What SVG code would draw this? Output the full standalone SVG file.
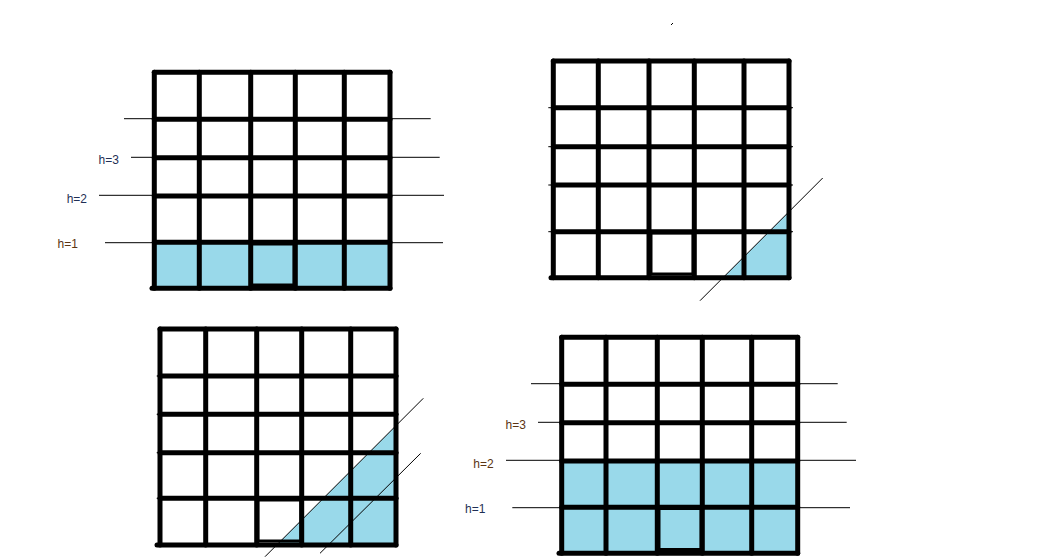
<svg xmlns="http://www.w3.org/2000/svg" width="1041" height="560" viewBox="0 0 1041 560">
<style>
.bg{fill:#ffffff}
.g{stroke:#000;stroke-width:5;stroke-linecap:round;fill:none}
.in{stroke:#000;stroke-width:3;fill:none}
.t{stroke:#000;stroke-width:1;fill:none}
.w{fill:#99d9ea;stroke:none}
.lb{font-family:"Liberation Sans",Arial,sans-serif;font-size:12px}
.nv{fill:#1f2f55}
.br{fill:#5b3412}
</style>
<rect class="bg" x="0" y="0" width="1041" height="560"/>
<line id="speck" class="t" x1="671" y1="25" x2="673" y2="23"/>

<g id="grid-top-left">
  <rect class="w" x="154.3" y="242.3" width="235.7" height="46"/>
  <g class="t">
    <line x1="124" y1="118.7" x2="430.7" y2="118.7"/>
    <line x1="131" y1="157.3" x2="439.7" y2="157.3"/>
    <line x1="99" y1="195.3" x2="444" y2="195.3"/>
    <line x1="105" y1="242.7" x2="443" y2="242.7"/>
  </g>
  <g class="g">
    <line x1="154.3" y1="72.3" x2="154.3" y2="288.3"/>
    <line x1="199.3" y1="72.3" x2="199.3" y2="288.3"/>
    <line x1="250.7" y1="72.3" x2="250.7" y2="288.3"/>
    <line x1="295.3" y1="72.3" x2="295.3" y2="288.3"/>
    <line x1="344.3" y1="72.3" x2="344.3" y2="288.3"/>
    <line x1="390" y1="72.3" x2="390" y2="288.3"/>
    <line x1="154.3" y1="72.3" x2="390" y2="72.3"/>
    <line x1="154.3" y1="119.3" x2="390" y2="119.3"/>
    <line x1="154.3" y1="157.7" x2="390" y2="157.7"/>
    <line x1="154.3" y1="196" x2="390" y2="196"/>
    <line x1="154.3" y1="242.3" x2="390" y2="242.3"/>
    <line x1="152" y1="288.3" x2="390" y2="288.3"/>
  </g>
  <rect class="in" x="251" y="244" width="43" height="41"/>
  <text class="lb nv" x="98.5" y="164">h=3</text>
  <text class="lb nv" x="66.7" y="202.7">h=2</text>
  <text class="lb br" x="57.5" y="247.5">h=1</text>
</g>

<g id="grid-top-right">
  <polygon class="w" points="723,277.7 789,277.7 789,211.7"/>
  <g class="t">
    <line x1="548.3" y1="107.7" x2="793" y2="107.7"/>
    <line x1="548.3" y1="146.7" x2="793" y2="146.7"/>
    <line x1="548.3" y1="185" x2="793" y2="185"/>
    <line x1="548.3" y1="231.7" x2="793" y2="231.7"/>
    <line x1="700" y1="300.7" x2="822.7" y2="178"/>
  </g>
  <g class="g">
    <line x1="553.3" y1="61" x2="553.3" y2="277.7"/>
    <line x1="598.3" y1="61" x2="598.3" y2="277.7"/>
    <line x1="649" y1="61" x2="649" y2="277.7"/>
    <line x1="694.3" y1="61" x2="694.3" y2="277.7"/>
    <line x1="744" y1="61" x2="744" y2="277.7"/>
    <line x1="789" y1="61" x2="789" y2="277.7"/>
    <line x1="553.3" y1="61" x2="789" y2="61"/>
    <line x1="553.3" y1="107.7" x2="789" y2="107.7"/>
    <line x1="553.3" y1="146.7" x2="789" y2="146.7"/>
    <line x1="553.3" y1="185" x2="789" y2="185"/>
    <line x1="553.3" y1="231.7" x2="789" y2="231.7"/>
    <line x1="551" y1="277.7" x2="789" y2="277.7"/>
  </g>
  <rect class="in" x="651" y="233" width="42" height="41"/>
</g>

<g id="grid-bottom-left">
  <polygon class="w" points="276.7,545 396,545 396,425.7"/>
  <g class="t">
    <line x1="156.7" y1="376" x2="398.3" y2="376"/>
    <line x1="156.7" y1="414.3" x2="398.3" y2="414.3"/>
    <line x1="156.7" y1="452.7" x2="398.3" y2="452.7"/>
    <line x1="156.7" y1="498.3" x2="398.3" y2="498.3"/>
    <line x1="265" y1="556.7" x2="423.3" y2="398.3"/>
    <line x1="320" y1="553.3" x2="420.7" y2="453.3"/>
  </g>
  <g class="g">
    <line x1="160" y1="329" x2="160" y2="545"/>
    <line x1="205.7" y1="329" x2="205.7" y2="545"/>
    <line x1="256.7" y1="329" x2="256.7" y2="545"/>
    <line x1="301.7" y1="329" x2="301.7" y2="545"/>
    <line x1="350.7" y1="329" x2="350.7" y2="545"/>
    <line x1="396" y1="329" x2="396" y2="545"/>
    <line x1="160" y1="329" x2="396" y2="329"/>
    <line x1="160" y1="376" x2="396" y2="376"/>
    <line x1="160" y1="414.3" x2="396" y2="414.3"/>
    <line x1="160" y1="452.7" x2="396" y2="452.7"/>
    <line x1="160" y1="498.3" x2="396" y2="498.3"/>
    <line x1="157" y1="545" x2="396" y2="545"/>
  </g>
  <rect class="in" x="258" y="500" width="43" height="41"/>
</g>

<g id="grid-bottom-right">
  <rect class="w" x="561.7" y="461" width="236" height="92.3"/>
  <g class="t">
    <line x1="531" y1="383.7" x2="837.7" y2="383.7"/>
    <line x1="538" y1="422.3" x2="846.7" y2="422.3"/>
    <line x1="506" y1="460.3" x2="856" y2="460.3"/>
    <line x1="512.3" y1="507.7" x2="850" y2="507.7"/>
  </g>
  <g class="g">
    <line x1="561.7" y1="337.3" x2="561.7" y2="553.3"/>
    <line x1="606" y1="337.3" x2="606" y2="553.3"/>
    <line x1="657.3" y1="337.3" x2="657.3" y2="553.3"/>
    <line x1="702.3" y1="337.3" x2="702.3" y2="553.3"/>
    <line x1="751.7" y1="337.3" x2="751.7" y2="553.3"/>
    <line x1="797.7" y1="337.3" x2="797.7" y2="553.3"/>
    <line x1="561.7" y1="337.3" x2="797.7" y2="337.3"/>
    <line x1="561.7" y1="384.3" x2="797.7" y2="384.3"/>
    <line x1="561.7" y1="422.7" x2="797.7" y2="422.7"/>
    <line x1="561.7" y1="461" x2="797.7" y2="461"/>
    <line x1="561.7" y1="507.3" x2="797.7" y2="507.3"/>
    <line x1="559" y1="553.3" x2="797.7" y2="553.3"/>
  </g>
  <rect class="in" x="659" y="508.5" width="42" height="41"/>
  <text class="lb br" x="505.5" y="429">h=3</text>
  <text class="lb br" x="473.3" y="467.7">h=2</text>
  <text class="lb nv" x="465" y="512.8">h=1</text>
</g>
</svg>
